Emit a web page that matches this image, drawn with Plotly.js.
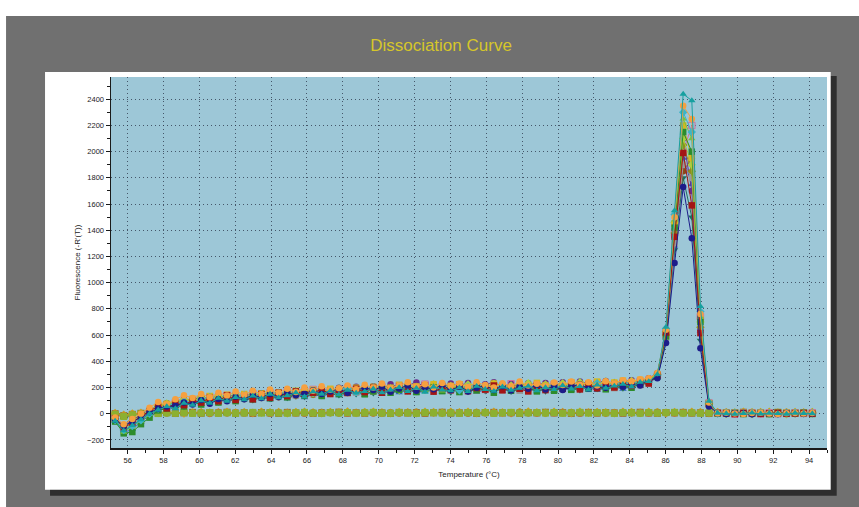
<!DOCTYPE html>
<html>
<head>
<meta charset="utf-8">
<script src="https://cdn.plot.ly/plotly-3.0.1.min.js"></script>
<style>
html,body{margin:0;padding:0;background:#ffffff;}
#chart{width:859px;height:507px;}
</style>
</head>
<body>
<div id="chart"></div>
<script>
// Temperature readings (°C)
const temperature = [
55.30,55.78,56.26,56.74,57.22,57.70,58.18,58.66,59.14,59.62,
60.10,60.58,61.06,61.54,62.02,62.50,62.98,63.46,63.94,64.42,
64.90,65.38,65.86,66.34,66.82,67.30,67.78,68.26,68.74,69.22,
69.70,70.18,70.66,71.14,71.62,72.10,72.58,73.06,73.54,74.02,
74.50,74.98,75.46,75.94,76.42,76.90,77.38,77.86,78.34,78.82,
79.30,79.78,80.26,80.74,81.22,81.70,82.18,82.66,83.14,83.62,
84.10,84.58,85.06,85.54,86.02,86.50,86.98,87.46,87.94,88.42,
88.90,89.38,89.86,90.34,90.82,91.30,91.78,92.26,92.74,93.22,
93.70,94.18];

// Sample wells: -R'(T)
const wellA1 = [
-45,-95,-60,-25,10,40,55,60,85,70,
105,75,112,95,130,110,145,120,150,128,
165,140,152,178,150,170,190,160,176,200,
180,205,168,192,215,175,200,186,222,178,
205,170,198,215,180,210,176,205,190,218,
185,212,180,206,225,190,210,198,226,205,
230,215,260,270,540,1150,1730,1340,500,55,
4,-3,6,2,-4,5,1,-2,6,3,
-1,4];
const wellA2 = [
-35,-105,-70,-20,20,55,40,80,65,102,
85,120,95,140,105,132,110,150,122,160,
135,170,148,160,185,150,176,158,190,165,
198,160,186,205,170,190,215,168,196,180,
208,172,196,184,215,178,200,190,170,212,
180,205,190,215,185,220,195,212,200,230,
212,240,230,295,620,1350,1990,1590,615,70,
6,2,-3,5,4,-2,3,7,-1,2,
5,0];
const wellA3 = [
-30,-80,-40,0,45,90,70,110,140,120,
150,125,160,138,170,145,175,150,185,160,
190,165,200,175,210,182,195,215,186,220,
200,230,195,215,240,205,225,200,235,212,
230,205,240,218,200,232,210,245,215,228,
210,238,218,245,222,240,215,248,230,255,
245,262,270,310,640,1500,2350,2250,760,85,
3,7,1,-2,5,8,2,-3,4,6,
2,5];
const wellA4 = [
-55,-130,-90,-45,0,30,55,40,80,65,
100,80,118,95,125,108,135,115,150,122,
138,160,130,168,150,175,145,180,158,170,
190,160,182,200,170,195,165,205,182,176,
198,170,210,186,172,205,180,195,210,176,
200,185,215,190,208,182,220,196,212,225,
205,240,246,300,660,1550,2440,2390,820,95,
5,1,-4,3,6,-1,4,2,-3,5,
3,1];
const wellA5 = [
-60,-150,-140,-80,-30,25,40,65,55,90,
70,105,85,120,96,130,110,138,118,150,
125,158,140,165,135,172,150,162,180,148,
170,190,160,182,195,165,185,200,172,190,
165,195,178,188,160,200,175,190,205,170,
195,175,205,182,200,190,212,186,205,220,
198,230,240,285,590,1420,2150,2000,700,80,
2,6,3,-2,4,1,-3,5,2,4,
6,-2];
const wellA6 = [
-40,-100,-55,-15,25,55,70,85,95,110,
125,100,135,115,140,118,150,130,158,135,
160,140,170,150,178,160,185,165,190,170,
200,175,195,210,180,205,185,215,192,200,
185,215,195,205,178,210,192,222,200,188,
215,195,225,200,210,230,205,218,235,210,
240,225,262,298,600,1380,2050,1850,660,75,
4,-1,5,3,-2,6,2,4,-3,1,
3,4];
const wellB1 = [
-50,-140,-100,-55,-5,35,58,75,60,100,
80,118,98,130,110,140,118,145,128,155,
140,165,148,175,155,168,182,160,188,170,
192,165,185,205,172,198,180,210,175,195,
210,180,198,220,185,205,176,215,192,205,
185,212,195,220,205,190,225,200,215,232,
220,245,249,305,630,1480,2250,2100,740,90,
3,5,-2,4,7,2,-1,3,5,-2,
4,2];
const wellB2 = [
-45,-120,-85,-40,5,50,62,90,75,104,
120,95,130,105,138,115,145,122,150,132,
165,138,172,150,165,182,155,175,160,190,
170,198,178,188,205,172,196,185,210,176,
190,210,178,202,185,215,190,175,205,196,
210,185,218,198,190,222,200,212,195,228,
232,218,250,292,580,1300,1900,1800,680,72,
1,4,6,-3,2,5,3,-1,4,2,
5,1];
const wellB3 = [
-38,-90,-50,-10,30,60,80,95,110,100,
130,110,140,120,150,128,160,135,168,145,
175,150,185,160,192,170,198,178,205,182,
210,190,225,200,215,238,205,222,196,230,
215,235,205,225,240,210,228,200,232,218,
235,212,240,220,246,226,238,250,228,245,
255,240,270,308,615,1400,2100,1700,640,65,
5,3,-2,6,1,4,-3,2,5,3,
0,3];
const wellB4 = [
-48,-125,-95,-50,0,40,58,80,95,85,
110,125,102,135,118,142,125,150,135,160,
145,170,152,160,185,158,175,195,165,182,
200,170,190,212,178,196,205,182,215,190,
178,205,220,190,200,212,185,208,198,215,
205,220,196,228,210,200,232,215,225,240,
228,250,246,296,650,1520,2300,2150,780,88,
2,5,3,-1,4,6,1,-2,3,5,
2,4];
const wellB5 = [
-42,-110,-65,-25,15,55,75,60,96,112,
100,135,112,145,120,150,128,156,138,162,
150,175,158,182,165,190,170,180,198,175,
205,182,198,220,188,208,195,225,200,212,
225,198,218,205,230,212,200,222,208,235,
215,228,210,238,222,230,245,220,238,252,
240,258,254,300,610,1450,2200,1950,720,78,
3,6,2,-1,5,3,-2,4,6,1,
3,2];
const wellB6 = [
-52,-135,-95,-48,-2,28,40,66,52,92,
75,106,88,118,95,124,102,130,112,138,
120,146,128,150,135,158,140,165,148,170,
155,178,160,172,185,165,180,170,190,162,
184,165,190,172,180,195,168,186,175,192,
170,195,182,200,178,205,188,198,210,192,
215,225,242,280,560,1250,1800,1500,560,62,
4,2,-3,5,3,-1,4,6,2,-2,
1,5];
const wellC1 = [
-40,-115,-80,-30,12,45,68,85,72,108,
95,128,105,140,118,135,155,128,160,140,
172,150,165,185,158,178,168,195,175,185,
180,205,190,215,185,200,225,195,210,188,
220,195,208,185,215,200,228,190,205,218,
198,222,205,232,212,200,236,215,228,238,
235,248,256,290,600,1380,2000,2200,740,82,
4,6,-2,3,5,1,6,-1,3,4,
2,6];
const wellC2 = [
-46,-128,-90,-42,2,38,52,78,66,96,
112,90,125,100,132,112,140,120,148,126,
155,135,160,145,170,152,178,158,165,185,
170,192,176,200,182,168,195,185,205,178,
196,180,205,188,175,200,192,210,182,198,
190,208,185,215,198,210,192,222,205,215,
225,235,244,288,590,1350,1850,1950,720,76,
3,-2,5,2,6,-3,4,1,5,2,
4,-1];
const wellC3 = [
-36,-98,-58,-12,28,62,78,92,108,96,
122,105,135,115,142,125,152,130,160,142,
168,148,175,158,185,165,192,170,180,198,
185,210,192,180,218,198,205,225,190,212,
200,222,210,195,228,205,215,200,232,212,
222,205,232,215,240,220,228,246,225,240,
250,246,265,302,625,1460,2100,1900,700,74,
5,2,7,-1,3,6,2,5,-2,4,
6,3];
const wellC4 = [
-58,-145,-120,-62,-15,22,45,38,70,82,
72,98,85,110,92,118,100,126,108,132,
115,140,122,148,130,155,138,150,162,142,
168,150,175,160,182,158,176,190,165,180,
172,188,165,182,195,170,186,178,192,168,
185,172,195,180,188,200,178,196,205,188,
206,218,236,276,550,1280,1950,1750,630,68,
2,4,-3,6,3,5,-1,2,4,6,
3,0];

// No-template control wells
const ntcC1 = [
-5,-20,-10,0,5,8,3,6,10,4,
7,2,8,5,9,3,6,10,4,8,
5,9,3,7,11,6,4,8,5,10,
6,3,9,5,8,12,4,7,10,5,
8,4,11,6,3,9,7,12,5,8,
4,10,6,9,3,7,11,5,8,6,
10,4,7,12,6,9,3,8,5,10,
7,4,9,6,11,3,8,5,10,6,
4,8];
const ntcC2 = [
0,-15,-5,3,8,4,9,2,6,10,
3,8,5,11,4,7,2,9,6,3,
10,5,8,2,6,9,12,4,7,3,
9,6,2,10,5,8,3,7,11,4,
6,9,2,8,10,5,7,3,9,6,
11,5,8,2,7,10,4,9,6,3,
8,11,5,3,9,6,10,4,7,2,
9,5,8,11,4,7,2,10,6,8,
5,3];
const ntcC3 = [
-8,-25,-12,-4,2,6,1,5,3,7,
2,6,1,4,8,3,5,0,6,4,
1,7,4,2,5,8,3,6,1,4,
7,2,5,8,1,4,6,3,7,2,
5,1,6,3,8,2,4,7,1,5,
3,6,2,5,8,1,4,6,3,7,
2,5,8,1,4,7,3,6,2,5,
4,1,6,3,7,2,5,8,1,4,
6,3];
const ntcC4 = [
2,-10,0,5,10,7,12,8,4,9,
11,6,9,13,7,10,5,12,8,11,
6,10,13,8,5,11,9,14,7,10,
12,8,5,11,9,6,13,10,7,12,
9,13,6,10,12,8,5,11,14,9,
7,12,10,6,13,9,11,8,5,12,
10,7,13,9,6,11,8,12,10,6,
11,9,6,13,8,10,12,7,9,11,
8,10];
const ntcC5 = [
-3,-18,-8,1,6,3,7,4,9,5,
8,4,10,6,3,9,5,8,4,7,
9,6,3,8,5,10,7,4,9,6,
4,9,6,3,10,7,5,8,4,9,
6,3,8,10,5,7,4,9,6,3,
8,5,10,7,4,9,6,3,8,10,
5,8,4,9,7,3,10,6,8,4,
7,10,5,3,8,6,9,4,7,5,
9,6];
const ntcC6 = [
-6,-22,-9,-2,4,1,6,3,8,2,
5,9,3,7,2,6,10,4,8,5,
3,7,10,5,2,8,6,9,4,7,
10,5,3,8,6,2,9,7,4,6,
3,8,5,9,2,7,10,4,6,8,
5,9,3,7,10,4,8,6,2,9,
7,3,9,5,8,10,4,7,3,6,
8,6,3,9,5,4,7,10,6,3,
7,4];

const xTickStep = 2;
const yTickStep = 200;

const ntcSeries = [
  {y: ntcC1, color:'#8c8a2a', symbol:'circle'},
  {y: ntcC2, color:'#9a6a2a', symbol:'square'},
  {y: ntcC3, color:'#4a8a30', symbol:'triangle-up'},
  {y: ntcC4, color:'#c8a020', symbol:'diamond'},
  {y: ntcC5, color:'#b87a30', symbol:'circle'},
  {y: ntcC6, color:'#8cb030', symbol:'square'}
];
const sampleSeries = [
  {y: wellC4, color:'#3060c0', symbol:'triangle-up'},
  {y: wellB6, color:'#1f6f5f', symbol:'triangle-down'},
  {y: wellC2, color:'#8b4a1a', symbol:'circle'},
  {y: wellB3, color:'#6a2c8c', symbol:'circle'},
  {y: wellC1, color:'#d070a0', symbol:'square-open'},
  {y: wellB2, color:'#9a9a9a', symbol:'square'},
  {y: wellA6, color:'#8d8d1e', symbol:'diamond'},
  {y: wellC3, color:'#a8d040', symbol:'diamond'},
  {y: wellB5, color:'#d6b820', symbol:'square'},
  {y: wellA5, color:'#2c8c2c', symbol:'square'},
  {y: wellB1, color:'#7ec03a', symbol:'triangle-up'},
  {y: wellB4, color:'#3cb4c8', symbol:'diamond'},
  {y: wellA2, color:'#a31515', symbol:'square'},
  {y: wellA1, color:'#1c1c8a', symbol:'circle'},
  {y: wellA3, color:'#f5a040', symbol:'circle'},
  {y: wellA4, color:'#17a0a0', symbol:'triangle-up'}
];

const traces = [];
ntcSeries.forEach(s => {
  traces.push({
    x: temperature, y: s.y, type:'scatter', mode:'lines+markers',
    line:{color:s.color, width:1},
    marker:{color:s.color, symbol:s.symbol, size:7},
    hoverinfo:'skip', showlegend:false
  });
});
sampleSeries.forEach(s => {
  traces.push({
    x: temperature, y: s.y, type:'scatter', mode:'lines+markers',
    line:{color:s.color, width:1},
    marker:{color:s.color, symbol:s.symbol, size:6.5},
    hoverinfo:'skip', showlegend:false
  });
});

// frame geometry in paper units
const L=111, R=827.3, T=77, B=448.3;
const W=R-L, H=B-T;
const px = v => (v-L)/W;
const py = v => (B-v)/H;

const layout = {
  width:859, height:507,
  margin:{l:L, r:859-R, t:T, b:507-B, pad:0},
  paper_bgcolor:'#ffffff',
  plot_bgcolor:'rgba(0,0,0,0)',
  font:{family:'Arial, "Liberation Sans", sans-serif', color:'#222'},
  showlegend:false,
  title:{text:'Dissociation Curve', font:{family:'Arial, "Liberation Sans", sans-serif', size:17, color:'#d6c62a'},
         x:441/859, xref:'container', xanchor:'center', y:1-45/507, yref:'container', yanchor:'middle'},
  shapes:[
    {type:'rect', xref:'paper', yref:'paper', x0:px(6), x1:px(900), y0:py(560), y1:py(16), fillcolor:'#707070', line:{width:0}, layer:'below'},
    {type:'rect', xref:'paper', yref:'paper', x0:px(50), x1:px(837), y0:py(496), y1:py(76), fillcolor:'#2e2e2e', line:{width:0}, layer:'below'},
    {type:'rect', xref:'paper', yref:'paper', x0:px(45), x1:px(831), y0:py(490), y1:py(72), fillcolor:'#ffffff', line:{width:0}, layer:'below'},
    {type:'rect', xref:'paper', yref:'paper', x0:0, x1:1, y0:0, y1:1, fillcolor:'#9dc7d7', line:{width:0}, layer:'below'}
  ],
  xaxis:{
    range:[55.07, 95.0], tick0:0, dtick:xTickStep, zeroline:false,
    showgrid:true, gridcolor:'rgba(40,50,70,0.75)', griddash:'1px,3px', gridwidth:1,
    showline:true, linecolor:'#1a1a1a', linewidth:1.5,
    ticks:'outside', ticklen:4, tickcolor:'#1a1a1a', tickwidth:1,
    minor:{dtick:1, ticks:'outside', ticklen:3, tickcolor:'#1a1a1a', showgrid:false},
    tickfont:{size:7.5, color:'#222'},
    title:{text:'Temperature (°C)', font:{size:8, color:'#222'}, standoff:8}
  },
  yaxis:{
    range:[-262, 2570], tick0:0, dtick:yTickStep, zeroline:false,
    showgrid:true, gridcolor:'rgba(40,50,70,0.75)', griddash:'1px,3px', gridwidth:1,
    showline:true, linecolor:'#1a1a1a', linewidth:1.5,
    ticks:'outside', ticklen:4, tickcolor:'#1a1a1a', tickwidth:1,
    minor:{dtick:100, ticks:'outside', ticklen:3, tickcolor:'#1a1a1a', showgrid:false},
    tickfont:{size:7.5, color:'#222'},
    title:{text:"Fluorescence (-R'(T))", font:{size:8, color:'#222'}, standoff:5}
  }
};

Plotly.newPlot('chart', traces, layout, {displayModeBar:false, staticPlot:true});
</script>
</body>
</html>
